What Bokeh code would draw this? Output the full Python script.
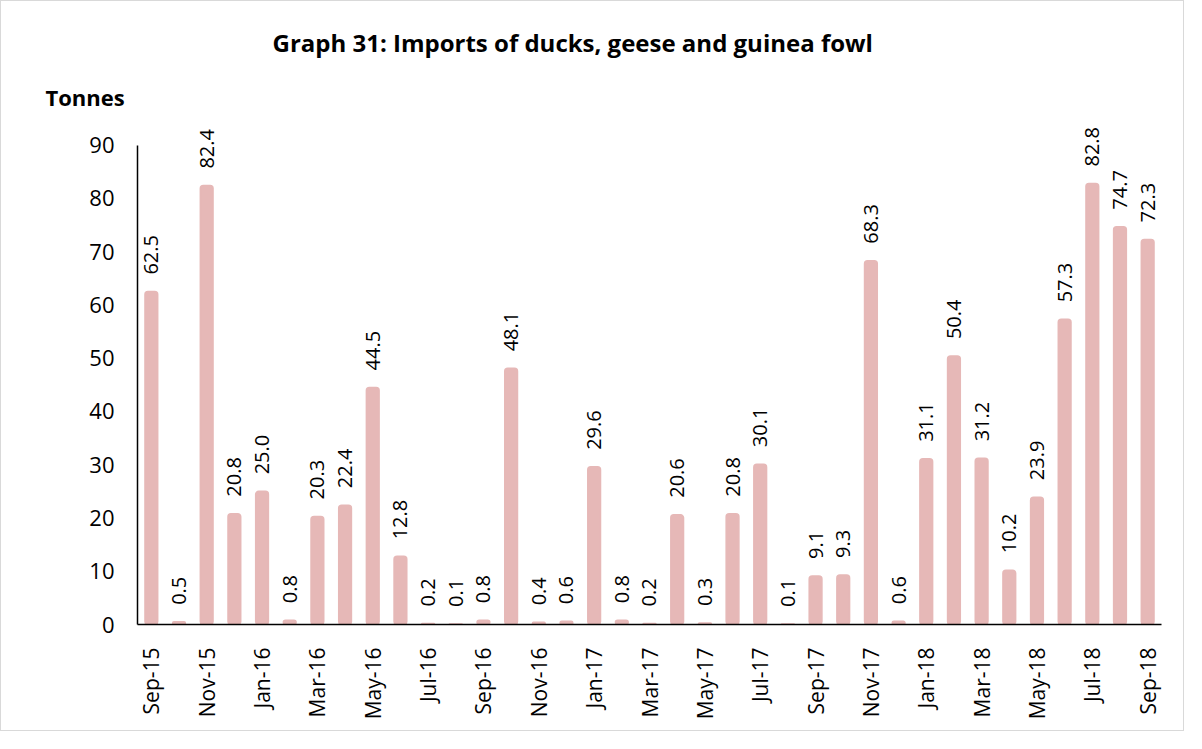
import math
from bokeh.plotting import figure
from bokeh.models import ColumnDataSource, LabelSet, Title, Range1d, FixedTicker
from bokeh.core.properties import value
from bokeh.embed import file_html
from bokeh.resources import INLINE

months = ["Sep-15", "Oct-15", "Nov-15", "Dec-15", "Jan-16", "Feb-16", "Mar-16", "Apr-16",
          "May-16", "Jun-16", "Jul-16", "Aug-16", "Sep-16", "Oct-16", "Nov-16", "Dec-16",
          "Jan-17", "Feb-17", "Mar-17", "Apr-17", "May-17", "Jun-17", "Jul-17", "Aug-17",
          "Sep-17", "Oct-17", "Nov-17", "Dec-17", "Jan-18", "Feb-18", "Mar-18", "Apr-18",
          "May-18", "Jun-18", "Jul-18", "Aug-18", "Sep-18"]
tonnes = [62.5, 0.5, 82.4, 20.8, 25.0, 0.8, 20.3, 22.4,
          44.5, 12.8, 0.2, 0.1, 0.8, 48.1, 0.4, 0.6,
          29.6, 0.8, 0.2, 20.6, 0.3, 20.8, 30.1, 0.1,
          9.1, 9.3, 68.3, 0.6, 31.1, 50.4, 31.2, 10.2,
          23.9, 57.3, 82.8, 74.7, 72.3]
y_ticks = [0, 10, 20, 30, 40, 50, 60, 70, 80, 90]

FONT = "Open Sans"
BAR = "#E6B8B7"

idx = list(range(len(months)))
src = ColumnDataSource(dict(x=idx, month=months, val=tonnes,
                            lab=["%.1f" % v for v in tonnes]))

p = figure(x_range=Range1d(-0.5, len(months) - 0.5), y_range=(0, 93.5),
           width=1184, height=731, output_backend="svg", toolbar_location=None,
           min_border_left=136, min_border_right=24, min_border_top=125,
           min_border_bottom=108)

p.vbar(x="x", top="val", width=0.46, source=src, fill_color=BAR,
       line_color=BAR, line_width=1.5, border_radius=3)

labels = LabelSet(x="x", y="val", text="lab", source=src, angle=math.pi / 2,
                  text_align="left", text_baseline="middle", y_offset=17,
                  text_font=value(FONT), text_font_size="20px", text_color="#000000")
p.add_layout(labels)

p.xgrid.visible = False
p.ygrid.visible = False
p.outline_line_color = None

p.yaxis.ticker = y_ticks
p.yaxis.bounds = (0, 90)
p.yaxis.major_tick_line_color = None
p.yaxis.minor_tick_line_color = None
p.yaxis.axis_line_color = "#000000"
p.yaxis.axis_line_width = 1.5
p.yaxis.major_label_text_font = FONT
p.yaxis.major_label_text_font_size = "22px"
p.yaxis.major_label_text_color = "#000000"
p.yaxis.major_label_standoff = 17

p.xaxis.ticker = FixedTicker(ticks=idx[::2])
p.xaxis.major_label_overrides = {i: months[i] for i in idx[::2]}
p.xaxis.major_tick_line_color = None
p.xaxis.minor_tick_line_color = None
p.xaxis.axis_line_color = "#000000"
p.xaxis.axis_line_width = 1.5
p.xaxis.major_label_orientation = math.pi / 2
p.xaxis.major_label_text_font = FONT
p.xaxis.major_label_text_font_size = "21px"
p.xaxis.major_label_text_color = "#000000"
p.xaxis.major_label_standoff = 17

p.add_layout(Title(text="Tonnes", align="left", offset=-92, text_font=FONT,
                   text_font_size="22px", text_font_style="bold",
                   text_color="#000000", standoff=29), "above")
p.add_layout(Title(text="Graph 31: Imports of ducks, geese and guinea fowl",
                   align="left", offset=135, text_font=FONT,
                   text_font_size="24px", text_font_style="bold",
                   text_color="#000000", standoff=13), "above")

p.styles = {"border": "1px solid #D9D9D9"}

open("out.html", "w").write(file_html(p, INLINE))
